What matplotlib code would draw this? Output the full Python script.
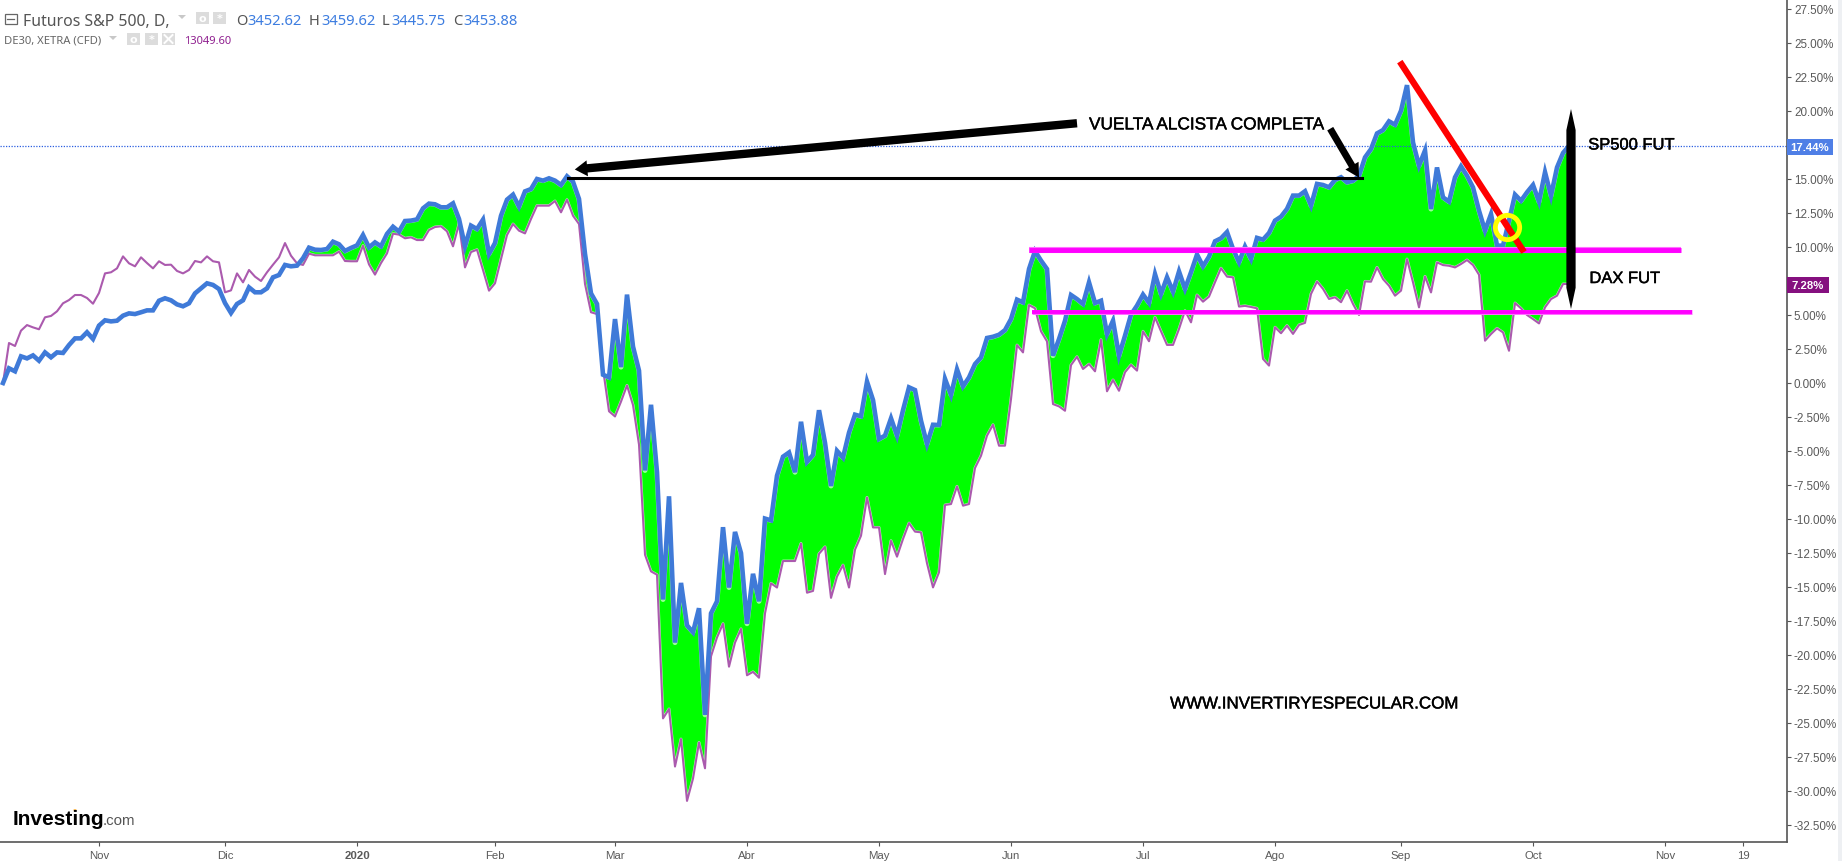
import numpy as np
import matplotlib
matplotlib.use('Agg')
import matplotlib.pyplot as plt
import matplotlib.patheffects as pe
from matplotlib.patches import Rectangle, Circle, Polygon

W, H = 1842, 862

# percent change since start, one value per trading day
sp500 = [0.0, 1.08, 0.86, 1.96, 1.81, 2.03, 1.64, 2.25, 1.89, 2.25,
         2.21, 2.79, 3.28, 3.28, 3.73, 3.24, 4.22, 4.61, 4.53, 4.58,
         4.95, 5.12, 5.07, 5.20, 5.34, 5.34, 6.05, 6.23, 6.08, 5.78,
         5.64, 5.86, 6.59, 6.96, 7.33, 7.21, 6.91, 5.88, 5.15, 5.81,
         6.08, 7.03, 6.67, 6.67, 6.96, 7.77, 7.94, 8.68, 8.58, 8.63,
         9.17, 9.95, 9.80, 9.78, 9.85, 10.39, 10.20, 9.71, 9.93, 10.12,
         10.88, 9.97, 10.34, 10.05, 10.96, 11.49, 11.13, 11.91, 11.94, 12.03,
         12.84, 13.19, 13.14, 12.92, 12.92, 13.21, 12.06, 10.05, 11.57, 11.32,
         12.01, 9.49, 10.29, 12.30, 13.48, 13.85, 12.97, 14.09, 14.26, 15.0,
         14.88, 15.05, 14.88, 14.56, 15.2, 14.80, 13.53, 9.49, 6.59, 5.81,
         0.61, 0.41, 4.7, 1.17, 6.5, 2.68, 0.91, -6.43, -1.6, -6.56,
         -15.92, -8.33, -19.09, -14.7, -17.82, -18.33, -16.56, -24.40, -16.94, -16.05,
         -10.6, -15.04, -10.95, -12.51, -17.70, -14.03, -16.05, -9.97, -10.10, -6.81,
         -5.42, -5.11, -6.56, -2.85, -5.80, -5.29, -2.0, -4.40, -7.57, -4.99,
         -5.49, -3.65, -2.33, -2.45, 0.1, -1.25, -4.12, -3.87, -2.60, -3.87,
         -2.0, -0.32, -0.52, -2.77, -4.49, -3.07, -3.09, 0.3, -0.88, 1.0,
         -0.25, 0.41, 1.39, 1.88, 3.31, 3.40, 3.55, 3.89, 4.70, 6.13,
         5.93, 8.38, 9.7, 9.0, 8.38, 2.01, 3.23, 4.58, 6.47, 6.17,
         5.81, 7.4, 5.88, 6.05, 3.60, 4.58, 2.01, 3.48, 5.03, 5.69,
         6.50, 5.89, 8.0, 6.55, 7.77, 6.72, 8.2, 6.92, 8.14, 9.45,
         8.58, 9.29, 10.42, 10.64, 11.1, 9.86, 8.88, 10.03, 9.12, 10.67,
         10.54, 11.03, 11.94, 12.23, 12.80, 13.78, 13.78, 14.10, 13.04, 14.64,
         14.56, 14.39, 14.93, 15.13, 14.76, 14.87, 15.24, 16.59, 17.2, 18.35,
         18.6, 19.24, 18.99, 20.02, 21.9, 17.69, 15.98, 17.1, 12.79, 15.85,
         13.65, 13.33, 15.12, 15.93, 15.24, 14.38, 12.67, 11.2, 12.42, 10.1,
         10.1, 11.93, 13.85, 13.4, 14.02, 14.56, 13.33, 15.5, 13.77, 15.85,
         16.91, 17.44]

dax = [0.0, 2.94, 2.72, 3.85, 4.26, 4.09, 3.95, 4.83, 4.93, 5.27,
       5.86, 6.10, 6.47, 6.47, 6.25, 5.83, 6.62, 8.06, 8.14, 8.43,
       9.31, 8.80, 8.58, 9.24, 8.82, 8.43, 8.95, 8.68, 8.70, 8.24,
       8.06, 8.31, 8.97, 8.87, 9.31, 8.95, 8.87, 6.67, 6.81, 8.06,
       7.40, 8.31, 7.82, 7.50, 8.14, 8.70, 9.24, 10.29, 9.36, 8.80,
       8.68, 9.51, 9.39, 9.39, 9.39, 9.39, 9.66, 8.97, 8.95, 8.95,
       10.10, 8.72, 7.97, 8.82, 9.53, 10.98, 10.91, 10.64, 10.71, 10.51,
       10.51, 11.25, 11.47, 11.52, 11.15, 10.05, 11.69, 8.50, 9.63, 9.80,
       8.31, 6.79, 7.33, 9.12, 10.88, 11.69, 11.20, 11.0, 12.06, 13.04,
       13.04, 13.04, 13.38, 12.55, 13.48, 12.30, 11.69, 7.28, 5.20, 5.07,
       1.04, -2.08, -2.46, -1.37, -0.18, -1.62, -4.53, -12.63, -13.85, -14.10,
       -24.66, -23.97, -28.2, -26.18, -30.73, -29.09, -26.43, -28.33, -20.10, -18.71,
       -17.70, -20.86, -19.09, -18.08, -21.49, -21.24, -21.67, -16.94, -14.73, -15.04,
       -13.09, -13.09, -13.09, -11.80, -15.42, -15.29, -12.56, -12.05, -15.80, -14.23,
       -13.39, -15.04, -12.25, -11.23, -8.41, -10.62, -10.62, -14.05, -11.60, -12.77,
       -11.47, -10.30, -10.93, -10.98, -13.26, -15.03, -13.92, -8.97, -8.90, -7.60,
       -9.02, -8.90, -6.25, -5.35, -3.87, -3.07, -4.61, -4.61, -1.18, 2.79,
       2.25, 5.73, 5.49, 3.80, 3.06, -1.55, -1.72, -2.04, 1.32, 1.93,
       1.03, 1.39, 0.86, 3.18, -0.61, 0.22, -0.57, 0.79, 1.33, 0.91,
       3.80, 3.07, 4.83, 3.80, 2.80, 2.80, 3.97, 5.32, 4.46, 6.47,
       5.98, 6.35, 7.41, 8.44, 7.82, 7.77, 5.62, 5.67, 5.59, 5.49,
       1.77, 1.28, 4.10, 3.66, 4.22, 3.61, 4.27, 4.42, 6.55, 7.46,
       6.92, 6.18, 6.30, 5.94, 6.79, 5.81, 5.0, 7.47, 7.45, 8.5,
       7.64, 7.15, 6.42, 6.79, 9.11, 7.4, 5.56, 7.84, 6.66, 8.87,
       8.67, 8.62, 8.5, 8.75, 9.04, 8.67, 7.96, 3.11, 3.6, 4.02,
       3.72, 2.37, 5.88, 5.49, 5.0, 4.7, 4.38, 5.56, 6.17, 6.42,
       7.28, 7.28]

tick_days = [16, 37, 59, 82, 102, 124, 146, 168, 190, 212, 233, 255, 277, 290]
tick_labels = ['Nov', 'Dic', '2020', 'Feb', 'Mar', 'Abr', 'May', 'Jun', 'Jul', 'Ago',
               'Sep', 'Oct', 'Nov', '19']
# 7.5 and 17.5 sit under the last value tags, so they carry no label
pct_ticks = [v for v in np.arange(-32.5, 28, 2.5) if v not in (7.5, 17.5)]

last_sp500 = 17.44
last_dax = 7.28

GRAY = '#5a5a5a'
BLUE = '#3f7ad8'
PURPLE = '#ab5aae'
NUM_BLUE = '#3d7de0'
FUZZ = [pe.withStroke(linewidth=0.3, foreground='black')]


def fx(x):
    return x / W


def fy(y):
    return 1 - y / H


fig = plt.figure(figsize=(W / 100, H / 100), dpi=100)
ax = fig.add_axes([0, (H - 843) / H, 1787 / W, 843 / H])
days = np.arange(len(sp500))
sp = np.array(sp500)
dx = np.array(dax)

ax.fill_between(days, sp, dx, where=sp >= dx, interpolate=True, color='#00ff00', lw=0, zorder=1)
ax.plot(days, dx, color='white', lw=2.1, alpha=0.7, zorder=2)
ax.plot(days, sp, color='white', lw=3.6, alpha=0.6, zorder=2)
ax.plot(days, dx, color=PURPLE, lw=1.5, zorder=3)
ax.plot(days, sp, color=BLUE, lw=3.3, zorder=4, solid_joinstyle='miter')
ax.axhline(last_sp500, color='#2a5fe0', lw=0.9, ls=(0, (1, 1.2)), zorder=2)

ax.set_xlim(-0.5, 297.33)
ax.set_ylim(-33.75, 28.235)
for s in ['top', 'left']:
    ax.spines[s].set_visible(False)
for s in ['right', 'bottom']:
    ax.spines[s].set_color('#555555')
    ax.spines[s].set_linewidth(1.2)
ax.yaxis.tick_right()
ax.set_yticks(pct_ticks)
ax.set_yticklabels(['%.2f%%' % v for v in pct_ticks], fontsize=8.4, family='Liberation Sans', color=GRAY)
ax.tick_params(axis='y', length=3, width=0.8, color='#555555', pad=2)
ax.set_xticks(tick_days)
ax.set_xticklabels(tick_labels, fontsize=8.2, family='Liberation Sans', color=GRAY)
ax.tick_params(axis='x', length=3, width=0.8, color='#555555', pad=3)
ax.get_xticklabels()[2].set_fontweight('bold')

# hand drawn overlays
ax.plot([171, 279.7], [9.8, 9.8], color='#ff70ff', lw=4.4, zorder=5, solid_capstyle='butt')
ax.plot([171, 279.7], [9.8, 9.8], color='#ff00ff', lw=3.5, zorder=5, solid_capstyle='butt')
ax.plot([171.5, 281.5], [5.2, 5.2], color='#ff70ff', lw=3.6, zorder=5, solid_capstyle='butt')
ax.plot([171.5, 281.5], [5.2, 5.2], color='#ff00ff', lw=2.8, zorder=5, solid_capstyle='butt')
ax.plot([232.8, 253.5], [23.63, 9.63], color='#ff0000', lw=4.6, zorder=6, solid_capstyle='butt')
ax.plot([250.6], [11.5], 'o', mfc='none', mec='#ffff00', mew=3.5, ms=17.5, zorder=7)
ax.plot([94.2, 226.5], [15.1, 15.1], color='black', lw=2.2, zorder=6)
ax.add_patch(Polygon([(261.33, 20.15), (262.1, 18.6), (262.1, 7.0), (261.33, 5.44),
                      (260.56, 7.0), (260.56, 18.6)], closed=True, color='black', lw=0, zorder=6))
ax.annotate('', xy=(95.3, 15.7), xytext=(179, 19.1),
            arrowprops=dict(width=6, headwidth=11.5, headlength=9, fc='black', ec='black', lw=0), zorder=6)
ax.annotate('', xy=(226, 15.1), xytext=(221.2, 18.7),
            arrowprops=dict(width=5, headwidth=11, headlength=10, fc='black', ec='black', lw=0), zorder=6)

ax.text(181, 18.98, 'VUELTA ALCISTA COMPLETA', fontsize=12.4, family='Liberation Sans', va='center',
        zorder=8, path_effects=FUZZ)
ax.text(264.2, 17.5, 'SP500 FUT', fontsize=11.9, family='Liberation Sans', va='center', zorder=8, path_effects=FUZZ)
ax.text(264.4, 7.68, 'DAX FUT', fontsize=11.9, family='Liberation Sans', va='center', zorder=8, path_effects=FUZZ)
ax.text(194.5, -23.6, 'WWW.INVERTIRYESPECULAR.COM', fontsize=12.2, family='Liberation Sans', va='center',
        zorder=8, path_effects=FUZZ)

# last value tags on the price scale
fig.patches.append(Rectangle((fx(1787), fy(155.5)), 46 / W, 16 / H, transform=fig.transFigure, color='#4f7fe6', lw=0))
fig.text(fx(1810), fy(148), '%.2f%%' % last_sp500, fontsize=8.2, weight='bold', family='Liberation Sans',
         color='white', ha='center', va='center')
fig.patches.append(Rectangle((fx(1787), fy(294)), 42 / W, 16 / H, transform=fig.transFigure, color='#85107f', lw=0))
fig.text(fx(1808), fy(286), '%.2f%%' % last_dax, fontsize=8.2, weight='bold', family='Liberation Sans',
         color='white', ha='center', va='center')

# scrollbar edge
fig.patches.append(Rectangle((fx(1838), 0), 4 / W, 1, transform=fig.transFigure, color='#eef0f3', lw=0))

# header
fig.patches.append(Rectangle((fx(4.5), fy(24.5)), 12 / W, 10 / H, transform=fig.transFigure,
                             fc='white', ec='#666666', lw=0.9))
fig.add_artist(plt.Line2D([fx(7), fx(14)], [fy(19.5), fy(19.5)], color='#666666', lw=0.9))
HY = 21.5
fig.text(fx(23), fy(HY), 'Futuros S&P 500, D,', fontsize=11.4, family='Noto Sans', weight='semibold', color='#555555', va='center')
fig.text(fx(236), fy(HY), 'O', fontsize=10.6, family='Noto Sans', color='#555555', va='center')
fig.text(fx(247.5), fy(HY), '3452.62', fontsize=10.6, family='Noto Sans', color=NUM_BLUE, va='center')
fig.text(fx(309), fy(HY), 'H', fontsize=10.6, family='Noto Sans', color='#555555', va='center')
fig.text(fx(321), fy(HY), '3459.62', fontsize=10.6, family='Noto Sans', color=NUM_BLUE, va='center')
fig.text(fx(382), fy(HY), 'L', fontsize=10.6, family='Noto Sans', color='#555555', va='center')
fig.text(fx(391), fy(HY), '3445.75', fontsize=10.6, family='Noto Sans', color=NUM_BLUE, va='center')
fig.text(fx(453), fy(HY), 'C', fontsize=10.6, family='Noto Sans', color='#555555', va='center')
fig.text(fx(463), fy(HY), '3453.88', fontsize=10.6, family='Noto Sans', color=NUM_BLUE, va='center')
fig.text(fx(4), fy(41), 'DE30, XETRA (CFD)', fontsize=8.1, family='Noto Sans', color='#666666', va='center')
fig.text(fx(184), fy(41), '13049.60', fontsize=8, family='Noto Sans', color='#8f1f8f', va='center')


def triangle(x, y):
    fig.patches.append(Polygon([(fx(x - 4), fy(y - 2)), (fx(x + 4), fy(y - 2)), (fx(x), fy(y + 2))],
                               transform=fig.transFigure, color='#c8c8c8', lw=0))


def icon(x, y, kind):
    fig.patches.append(Rectangle((fx(x), fy(y + 12)), 13 / W, 12 / H, transform=fig.transFigure, color='#dcdcdc', lw=0))
    cx, cy = x + 6.5, y + 6
    if kind == 'x':
        for sgn in (1, -1):
            fig.add_artist(plt.Line2D([fx(cx - 4), fx(cx + 4)], [fy(cy - 4 * sgn), fy(cy + 4 * sgn)], color='white', lw=1.4))
    else:
        fig.text(fx(cx), fy(cy), 'o' if kind == 'eye' else '*', fontsize=8, color='white', weight='bold',
                 ha='center', va='center')


triangle(182, 18)
icon(196, 13, 'eye')
icon(213, 13, 'gear')
triangle(113, 39)
icon(127, 34, 'eye')
icon(145, 34, 'gear')
icon(162, 34, 'x')

# logo
fig.text(fx(13), fy(825), 'Investing', fontsize=15, weight='bold', family='Liberation Sans', color='black', va='baseline')
fig.text(fx(103), fy(825), '.com', fontsize=10.8, family='Liberation Sans', color='#555555', va='baseline')
fig.patches.append(Circle((fx(75), fy(811)), 1.6 / W, transform=fig.transFigure, color='#f7a11a', lw=0))

fig.savefig('out.png', dpi=100)
